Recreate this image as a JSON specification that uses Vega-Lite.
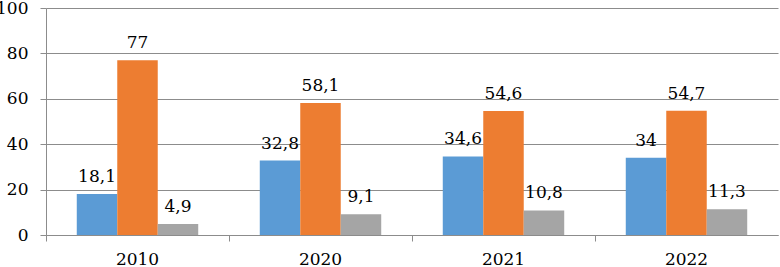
{
  "$schema": "https://vega.github.io/schema/vega-lite/v6.json",
  "width": 732,
  "height": 227,
  "autosize": {"type": "none"},
  "padding": {"left": 46, "top": 8, "right": 2, "bottom": 32},
  "background": "white",
  "config": {
    "locale": {"number": {"decimal": ",", "thousands": " ", "grouping": [3], "currency": ["", ""]}},
    "font": "DejaVu Serif",
    "view": {"stroke": null}
  },
  "data": {
    "values": [
      {"year": "2010", "series": "A", "value": 18.1},
      {"year": "2010", "series": "B", "value": 77},
      {"year": "2010", "series": "C", "value": 4.9},
      {"year": "2020", "series": "A", "value": 32.8},
      {"year": "2020", "series": "B", "value": 58.1},
      {"year": "2020", "series": "C", "value": 9.1},
      {"year": "2021", "series": "A", "value": 34.6},
      {"year": "2021", "series": "B", "value": 54.6},
      {"year": "2021", "series": "C", "value": 10.8},
      {"year": "2022", "series": "A", "value": 34},
      {"year": "2022", "series": "B", "value": 54.7},
      {"year": "2022", "series": "C", "value": 11.3}
    ]
  },
  "encoding": {
    "x": {
      "field": "year", "type": "nominal",
      "scale": {"paddingInner": 0, "paddingOuter": 0},
      "axis": {
        "title": null, "labelAngle": 0, "labelFontSize": 17, "labelColor": "black",
        "labelFont": "DejaVu Serif",
        "domainColor": "#8c8c8c", "tickColor": "#8c8c8c", "tickSize": 6,
        "bandPosition": 0, "labelPadding": 10, "grid": false
      }
    },
    "xOffset": {"field": "series", "type": "nominal", "scale": {"paddingInner": 0, "paddingOuter": 0.76}},
    "y": {
      "field": "value", "type": "quantitative",
      "scale": {"domain": [0, 100], "nice": false},
      "axis": {
        "title": null, "values": [0, 20, 40, 60, 80, 100], "format": "d",
        "labelFontSize": 17, "labelColor": "black", "labelFont": "DejaVu Serif",
        "labelPadding": 12, "tickSize": 6, "tickColor": "#8c8c8c",
        "domainColor": "#8c8c8c", "gridColor": "#8c8c8c", "gridWidth": 1
      }
    }
  },
  "layer": [
    {
      "mark": {"type": "bar"},
      "encoding": {
        "color": {
          "field": "series", "type": "nominal", "legend": null,
          "scale": {"domain": ["A", "B", "C"], "range": ["#5B9BD5", "#ED7D31", "#A5A5A5"]}
        }
      }
    },
    {
      "mark": {"type": "text", "baseline": "alphabetic", "dy": -12, "fontSize": 17, "font": "DejaVu Serif", "color": "black"},
      "encoding": {
        "text": {"field": "value", "type": "quantitative", "format": "~g"}
      }
    }
  ]
}
